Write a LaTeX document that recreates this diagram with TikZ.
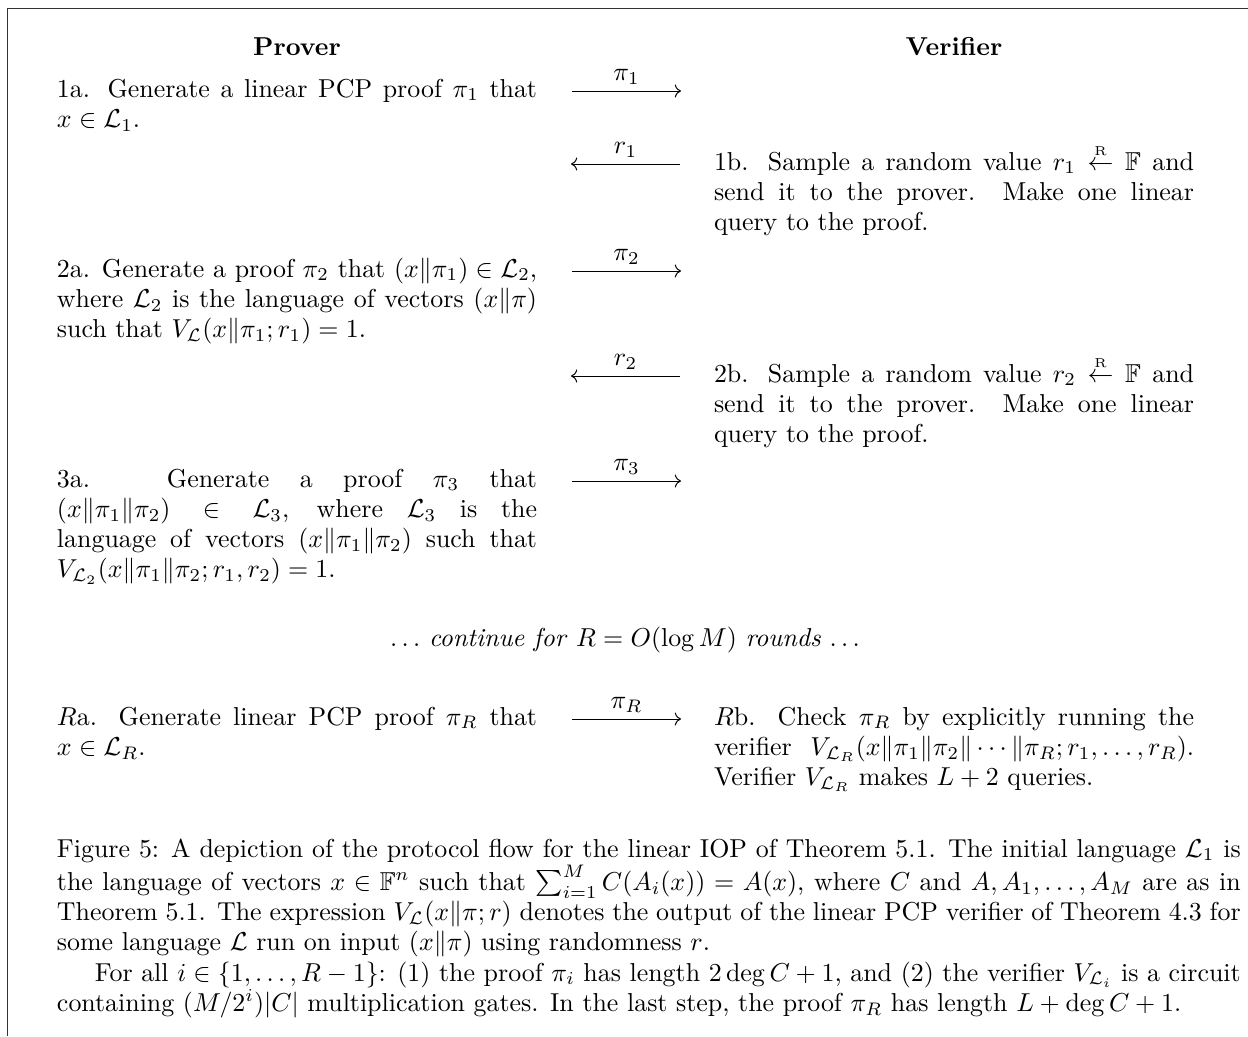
\RequirePackage{fix-cm}
\documentclass[tikz,border=0pt]{standalone}
\usepackage{amsmath,amssymb}
\usetikzlibrary{arrows.meta}
\newcommand{\sampleR}{\mathrel{\overset{\scriptscriptstyle\mathrm{R}}{\leftarrow}}}
\begin{document}
\fontsize{10.28}{12}\selectfont
\begin{tikzpicture}[x=0.39683pt,y=-0.39683pt,
  txt/.style={inner sep=0pt, outer sep=0pt, anchor=base west, text width=190.5pt, align=justify},
  captxt/.style={inner sep=0pt, outer sep=0pt, anchor=base west, text width=469.75pt, align=justify},
  head/.style={inner sep=0pt, anchor=base, font=\bfseries},
  msg/.style={line width=0.4pt, -{Computer Modern Rightarrow}},
  lab/.style={inner sep=0pt, anchor=base, midway, yshift=4.3pt},
  frame/.style={line width=0.7pt, draw=black!80}]
\useasboundingbox (0,0) rectangle (1248,1036);
\draw[frame] (7.5,1036) -- (7.5,8.5) -- (1248,8.5);

% headers
\node[head] (hp) at (297,55) {Prover};
\node[head] (hv) at (954,55) {Verifier};

% prover column
\node[txt] (p1) at (57,97) {1a. Generate a linear PCP proof $\pi_1$ that\linebreak $x\in\mathcal{L}_1$.};
\node[txt] (p2) at (57,277) {2a. Generate a proof $\pi_2$ that $(x\|\pi_1)\in\mathcal{L}_2$,\linebreak where $\mathcal{L}_2$ is the language of vectors $(x\|\pi)$\linebreak such that $V_{\mathcal{L}}(x\|\pi_1;r_1)=1$.};
\node[txt] (p3) at (57,487) {3a. Generate a proof $\pi_3$ that\linebreak $(x\|\pi_1\|\pi_2)\in\mathcal{L}_3$, where $\mathcal{L}_3$ is the\linebreak language of vectors $(x\|\pi_1\|\pi_2)$ such that\linebreak $V_{\mathcal{L}_2}(x\|\pi_1\|\pi_2;r_1,r_2)=1$.};
\node[txt] (pR) at (57,725) {$R$a. Generate linear PCP proof $\pi_R$ that\linebreak $x\in\mathcal{L}_R$.};

% verifier column
\node[txt] (v1) at (714,170) {1b. Sample a random value $r_1\sampleR\mathbb{F}$ and\linebreak send it to the prover. Make one linear\linebreak query to the proof.};
\node[txt] (v2) at (714,382) {2b. Sample a random value $r_2\sampleR\mathbb{F}$ and\linebreak send it to the prover. Make one linear\linebreak query to the proof.};
\node[txt] (vR) at (714,725) {$R$b. Check $\pi_R$ by explicitly running the\linebreak verifier $V_{\mathcal{L}_R}(x\|\pi_1\|\pi_2\|\cdots\|\pi_R;r_1,\dots,r_R)$.\linebreak Verifier $V_{\mathcal{L}_R}$ makes $L+2$ queries.};

% continue
\node[inner sep=0pt, anchor=base] (cont) at (625,646) {$\,\ldots$ \textit{continue for} $R=O(\log M)$ \textit{rounds} $\ldots\,$};

% message arrows
\coordinate (m1l) at (572,91);  \coordinate (m1r) at (681,91);
\coordinate (m2l) at (571,164); \coordinate (m2r) at (680,164);
\coordinate (m3l) at (572,271); \coordinate (m3r) at (681,271);
\coordinate (m4l) at (571,376); \coordinate (m4r) at (680,376);
\coordinate (m5l) at (572,481); \coordinate (m5r) at (681,481);
\coordinate (m6l) at (572,719); \coordinate (m6r) at (681,719);
\draw[msg] (m1l) -- node[lab] {$\pi_1$} (m1r);
\draw[msg] (m2r) -- node[lab] {$r_1$} (m2l);
\draw[msg] (m3l) -- node[lab] {$\pi_2$} (m3r);
\draw[msg] (m4r) -- node[lab] {$r_2$} (m4l);
\draw[msg] (m5l) -- node[lab] {$\pi_3$} (m5r);
\draw[msg] (m6l) -- node[lab] {$\pi_R$} (m6r);

% caption
\node[captxt] (cap1) at (57,857) {Figure 5: A depiction of the protocol flow for the linear IOP of Theorem 5.1. The initial language $\mathcal{L}_1$ is the language of vectors $x\in\mathbb{F}^n$ such that $\sum_{i=1}^M C(A_i(x))=A(x)$, where $C$ and $A,A_1,\dots,A_M$ are as in Theorem 5.1. The expression $V_{\mathcal{L}}(x\|\pi;r)$ denotes the output of the linear PCP verifier of Theorem 4.3 for some language $\mathcal{L}$ run on input $(x\|\pi)$ using randomness $r$.};
\node[captxt] (cap2) at (57,981) {\hspace*{15pt}For all $i\in\{1,\dots,R-1\}$: (1) the proof $\pi_i$ has length $2\deg C+1$, and (2) the verifier $V_{\mathcal{L}_i}$ is a circuit containing $(M/2^i)|C|$ multiplication gates. In the last step, the proof $\pi_R$ has length $L+\deg C+1$.};
\end{tikzpicture}
\end{document}
